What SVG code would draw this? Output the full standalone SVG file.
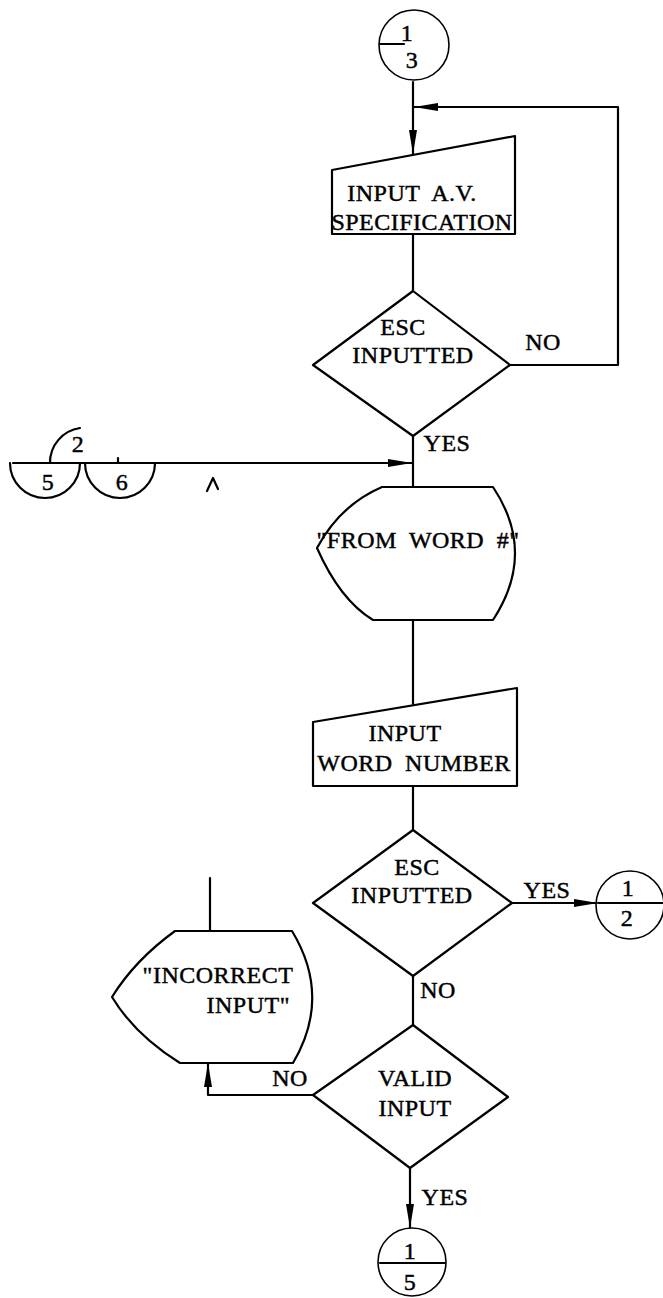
<svg xmlns="http://www.w3.org/2000/svg" width="663" height="1298" viewBox="0 0 663 1298">
<defs>
<style>
.s{fill:none;stroke:#000;stroke-width:2.2;stroke-linejoin:round;stroke-linecap:round}
.f{fill:#fff;stroke:#000;stroke-width:2.2;stroke-linejoin:round}
.c{fill:#fff;stroke:#000;stroke-width:1.6}
.t{font-family:"Liberation Serif","Times New Roman",serif;font-size:24px;fill:#000;stroke:#000;stroke-width:0.45;text-anchor:middle;letter-spacing:0.5px;word-spacing:6px}
</style>
<marker id="ah" viewBox="0 0 24 10" refX="24" refY="5" markerWidth="24" markerHeight="10" markerUnits="userSpaceOnUse" orient="auto">
<path d="M0,1 L24,5 L0,9 Z" fill="#000"/>
</marker>
</defs>
<rect width="663" height="1298" fill="#fff"/>

<g id="connectors">
<line class="s" x1="413" y1="82" x2="413" y2="154" marker-end="url(#ah)"/>
<polyline class="s" points="510,365 618,365 618,107 414,107" marker-end="url(#ah)"/>
<line class="s" x1="413" y1="234" x2="413" y2="291"/>
<line class="s" x1="413" y1="436" x2="413" y2="487"/>
<line class="s" x1="13" y1="463" x2="412" y2="463" marker-end="url(#ah)"/>
<line class="s" x1="413" y1="620" x2="413" y2="704"/>
<line class="s" x1="413" y1="786" x2="413" y2="830"/>
<line class="s" x1="512" y1="903" x2="598" y2="903" marker-end="url(#ah)"/>
<line class="s" x1="413" y1="976" x2="413" y2="1025"/>
<line class="s" x1="410" y1="1168" x2="410" y2="1228" marker-end="url(#ah)"/>
<polyline class="s" points="313,1095 208,1095 208,1063" marker-end="url(#ah)"/>
<line class="s" x1="210" y1="878" x2="210" y2="931"/>
<path class="s" d="M207,491 L213,478 L218,489"/>
<line class="s" x1="118" y1="458" x2="118" y2="463"/>
</g>

<g id="conn-1-3">
<circle class="c" cx="414" cy="45" r="35"/>
<line class="s" x1="380" y1="44" x2="404" y2="44"/>
<text class="t" x="407" y="41">1</text>
<text class="t" x="412" y="68">3</text>
</g>

<g id="input-av">
<path class="f" d="M332,170 L515,136 L515,234 L332,234 Z"/>
<text class="t" x="412" y="201">INPUT A.V.</text>
<text class="t" x="422" y="230">SPECIFICATION</text>
</g>

<g id="esc1">
<path class="f" d="M413,291 L510,365 L413,436 L313,365 Z"/>
<text class="t" x="403" y="335">ESC</text>
<text class="t" x="413" y="363">INPUTTED</text>
<text class="t" x="543" y="350">NO</text>
<text class="t" x="447" y="451">YES</text>
</g>

<g id="offpage-left">
<path class="s" d="M10,463 A35,35 0 0 0 80,463"/>
<path class="s" d="M85,463 A35,35 0 0 0 155,463"/>
<path class="s" d="M50,463 A35,35 0 0 1 80,428"/>
<text class="t" x="78" y="452">2</text>
<text class="t" x="48" y="490">5</text>
<text class="t" x="122" y="490">6</text>
</g>

<g id="from-word">
<path class="f" d="M382,487 L493,487 Q537,553 493,620 L373,620 Q340,600 317,548 Q340,505 382,487 Z"/>
<text class="t" x="418" y="548">"FROM WORD #"</text>
</g>

<g id="input-word">
<path class="f" d="M313,722 L517,688 L517,786 L313,786 Z"/>
<text class="t" x="405" y="741">INPUT</text>
<text class="t" x="414" y="771">WORD NUMBER</text>
</g>

<g id="esc2">
<path class="f" d="M413,830 L512,903 L413,976 L313,903 Z"/>
<text class="t" x="417" y="875">ESC</text>
<text class="t" x="412" y="903">INPUTTED</text>
<text class="t" x="547" y="898">YES</text>
<text class="t" x="438" y="998">NO</text>
</g>

<g id="conn-1-2">
<circle class="c" cx="630" cy="905" r="34"/>
<line class="s" x1="598" y1="903" x2="663" y2="903"/>
<text class="t" x="628" y="896">1</text>
<text class="t" x="627" y="926">2</text>
</g>

<g id="incorrect">
<path class="f" d="M175,931 L292,931 Q332,997 293,1063 L180,1063 Q135,1035 112,997 Q135,960 175,931 Z"/>
<text class="t" x="218" y="983">"INCORRECT</text>
<text class="t" x="290" y="1013" style="text-anchor:end">INPUT"</text>
</g>

<g id="valid">
<path class="f" d="M413,1025 L508,1097 L410,1168 L313,1095 Z"/>
<text class="t" x="415" y="1086">VALID</text>
<text class="t" x="415" y="1116">INPUT</text>
<text class="t" x="290" y="1086">NO</text>
<text class="t" x="445" y="1205">YES</text>
</g>

<g id="conn-1-5">
<circle class="c" cx="412" cy="1262" r="34"/>
<line class="s" x1="380" y1="1263" x2="445" y2="1263"/>
<text class="t" x="410" y="1259">1</text>
<text class="t" x="410" y="1290">5</text>
</g>
</svg>
